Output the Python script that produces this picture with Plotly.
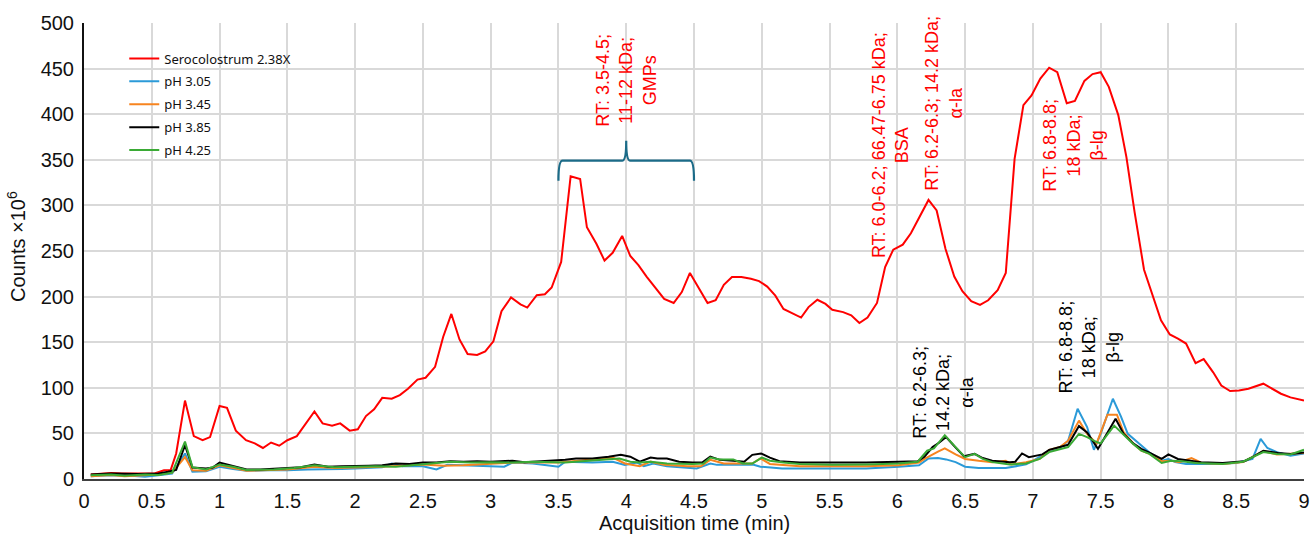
import plotly.graph_objects as go

# ---------------- data ----------------
red_time = [0.05,0.12,0.2,0.28,0.36,0.44,0.52,0.59,0.64,0.68,0.745,0.81,0.875,0.93,1.0,1.055,1.12,1.195,1.26,1.32,1.38,1.44,1.5,1.57,1.63,1.70,1.76,1.83,1.89,1.96,2.02,2.08,2.14,2.2,2.27,2.33,2.39,2.46,2.52,2.59,2.65,2.71,2.77,2.83,2.9,2.96,3.02,3.08,3.15,3.22,3.27,3.34,3.4,3.45,3.52,3.59,3.66,3.71,3.78,3.84,3.9,3.97,4.03,4.09,4.15,4.22,4.28,4.35,4.41,4.47,4.535,4.6,4.66,4.72,4.78,4.85,4.92,4.98,5.04,5.1,5.16,5.23,5.29,5.345,5.41,5.47,5.52,5.6,5.66,5.72,5.78,5.85,5.91,5.97,6.04,6.1,6.165,6.23,6.29,6.355,6.42,6.48,6.545,6.61,6.67,6.74,6.8,6.865,6.93,6.99,7.055,7.12,7.18,7.25,7.31,7.38,7.44,7.5,7.56,7.63,7.69,7.75,7.82,7.88,7.945,8.01,8.07,8.13,8.2,8.26,8.33,8.39,8.455,8.52,8.59,8.7,8.76,8.83,8.9,9.0]
red_counts = [5,5.5,6.5,6,6,6.5,6,9.5,10,28,86,47,42.5,46,80,78,53,42.5,39,34,40,36.5,42.5,47,59,74,61,58.5,61,53,54.5,69,76.5,89,88,92,99,109,111,123,156,181,153,137,136,140,151,184,199,191.5,188,201.5,202.5,210,238,332,329,276,258,239.5,248,266.5,244.5,234.5,222,208.5,197.5,193,205,226,209.5,193,196,213,221.5,221.5,219.5,217,211,201,186.5,181,177,188.5,196.5,192,185.5,183,179.5,171,177,193,232.5,251.5,257,269.5,287,306,294.5,252.5,222,206,195,191,196,207,226,351,410,420.5,439,451,446,412,414.5,436.5,444,446,430,399,353,293,229.5,203,174,158.5,154,148.5,127,131.5,117,102.5,96.5,97,99,104.5,99,93.5,89.5,86]

ph305_time = [0.05,0.2,0.35,0.45,0.55,0.65,0.745,0.8,0.9,1.0,1.1,1.2,1.35,1.5,1.65,1.8,1.9,2.0,2.1,2.2,2.27,2.35,2.5,2.6,2.68,2.8,3.0,3.1,3.16,3.31,3.5,3.55,3.75,3.9,3.99,4.08,4.13,4.2,4.3,4.52,4.62,4.67,4.94,4.99,5.15,5.5,5.77,6.01,6.16,6.23,6.3,6.36,6.43,6.5,6.6,6.8,6.95,7.0,7.12,7.2,7.26,7.33,7.4,7.45,7.5,7.59,7.65,7.7,7.8,7.86,7.95,8.0,8.05,8.13,8.3,8.5,8.62,8.68,8.73,8.8,8.9,9.0]
ph305_counts = [3,4,3.5,2.5,4,6,28,8,8.5,13.5,11,9,9.5,9.5,10.5,10.5,11,11.5,12,13,17,14,14,10.5,15.5,15,14,13.5,18,17,13.5,19,18,19,15.5,18,14,17,14,11.5,17,15.5,15.5,13.5,11.5,11.5,11.5,13.5,15,22.5,23,21.5,18.5,13.5,12,12,16,20,30.5,34,42,77,57,32,49.5,88,68.5,49.5,36.5,29,20,22,18.5,16.5,16.5,17.5,22,44,34,29.5,25.5,28]

ph345_time = [0.05,0.2,0.3,0.45,0.55,0.65,0.745,0.8,0.9,1.0,1.1,1.2,1.5,1.7,1.85,2.0,2.2,2.5,2.65,2.8,3.0,3.16,3.5,3.83,3.9,3.99,4.1,4.18,4.28,4.45,4.55,4.62,4.72,4.93,4.99,5.06,5.28,5.77,6.01,6.16,6.2,6.3,6.35,6.43,6.5,6.6,6.7,6.8,6.84,6.95,7.05,7.12,7.2,7.26,7.34,7.4,7.47,7.55,7.62,7.67,7.74,7.8,7.86,7.95,8.02,8.08,8.17,8.25,8.4,8.55,8.7,8.8,9.0]
ph345_counts = [3,4.5,3,4,5,7,24,9.5,9,15,12,9,10.5,13.5,12,12.5,13.5,16,14.5,15,17,18,18,22.5,23.5,17,14,19,15.5,14,14,21,17,17,22.5,16.5,14,14,15,18,22,30,33.5,27,22,20,18.5,20,16,18.5,22,32,35,42,64,49.5,39,70.5,70.5,51,39,31,27.5,19.5,20,18.5,23,17.5,16.5,18.5,30.5,27,28.5]

ph385_time = [0.05,0.2,0.4,0.55,0.62,0.68,0.745,0.8,0.9,0.95,1.0,1.1,1.2,1.3,1.4,1.5,1.6,1.7,1.8,1.9,2.0,2.1,2.2,2.3,2.4,2.5,2.6,2.7,2.8,2.9,3.0,3.1,3.16,3.25,3.31,3.43,3.55,3.63,3.75,3.87,3.96,4.03,4.1,4.18,4.23,4.3,4.39,4.49,4.56,4.62,4.69,4.79,4.87,4.93,4.995,5.06,5.13,5.28,5.52,5.77,6.01,6.15,6.2,6.26,6.31,6.36,6.42,6.49,6.57,6.63,6.7,6.83,6.87,6.92,6.97,7.02,7.07,7.12,7.19,7.26,7.34,7.4,7.48,7.55,7.61,7.67,7.74,7.8,7.86,7.95,8.0,8.07,8.18,8.24,8.4,8.56,8.62,8.7,8.81,8.9,9.0]
ph385_counts = [5,6,5.5,6,8,10,37,12.5,11.5,12.5,18,14,10.5,10.5,11.5,12.5,13,16,13.5,14,14,14.5,15,17,16.5,18,18,19.5,19,19.5,19,19.5,20,18.5,19,20,21,22.5,22.5,24.5,26.5,24.5,19,23.5,22.5,22.5,19,18,18,24.5,21,20,19,26.5,28,23.5,19.5,18,18,18,19,19.5,24.5,35,40,46,36,25,27.5,23,20,18.5,19,28,24,25.5,27,32,35,37.5,58,51,33,51,66,49.5,39,33,29,22,27,22,20,18.5,17.5,19.5,24,31,28.5,27.5,29]

ph425_time = [0.05,0.2,0.3,0.45,0.55,0.65,0.745,0.8,0.9,1.0,1.1,1.2,1.4,1.55,1.7,1.85,2.0,2.15,2.3,2.5,2.7,2.85,3.0,3.16,3.31,3.55,3.75,3.87,3.95,4.03,4.1,4.18,4.3,4.49,4.57,4.62,4.69,4.79,4.86,4.93,5.0,5.06,5.16,5.28,5.52,5.77,6.01,6.15,6.22,6.27,6.35,6.43,6.5,6.57,6.63,6.7,6.83,6.95,7.05,7.12,7.2,7.26,7.34,7.4,7.47,7.5,7.6,7.66,7.74,7.8,7.86,7.95,8.02,8.1,8.2,8.4,8.55,8.7,8.8,8.9,9.0]
ph425_counts = [4,5,3.5,5,4.5,7,41,13,10.5,16,13.5,10,10.5,12,15,13,13.5,14,13.5,16.5,19,18,18.5,18,19,18,20,21.5,22.5,19,18,19,17,16.5,17,23.5,21.5,21.5,17,17,23.5,20,18,16.5,15.5,16,17,19,31,33.5,48,35,24,27.5,22,18.5,16,17,22,29.5,33,35,49.5,46,40.5,39,58.5,49.5,38.5,31,27.5,17.5,20,19.5,17.5,16.5,19,29.5,27.5,27,32]

series_names = ["Serocolostrum 2.38X", "pH 3.05", "pH 3.45", "pH 3.85", "pH 4.25"]
series_colors = ["#ff0000", "#2b9ad8", "#f7841f", "#000000", "#3aaa35"]

x_ticks = [0, 0.5, 1, 1.5, 2, 2.5, 3, 3.5, 4, 4.5, 5, 5.5, 6, 6.5, 7, 7.5, 8, 8.5, 9]
x_tick_labels = ["0", "0.5", "1", "1.5", "2", "2.5", "3", "3.5", "4", "4.5", "5", "5.5", "6", "6.5", "7", "7.5", "8", "8.5", "9"]
y_ticks = [0, 50, 100, 150, 200, 250, 300, 350, 400, 450, 500]

x_title = "Acquisition time (min)"
y_title = "Counts ×10<sup>6</sup>"

# annotation texts: (text, x, y, color)
notes = [
    ("RT: 3.5-4.5;<br>11-12 kDa;<br>GMPs", 4.0, 437, "#ff0000"),
    ("RT: 6.0-6.2; 66.47-6.75 kDa;<br>BSA", 5.945, 366, "#ff0000"),
    ("RT: 6.2-6.3; 14.2 kDa;<br>α-la", 6.34, 412, "#ff0000"),
    ("RT: 6.8-8.8;<br>18 kDa;<br>β-lg", 7.30, 366, "#ff0000"),
    ("RT: 6.2-6.3;<br>14.2 kDa;<br>α-la", 6.34, 95, "#000000"),
    ("RT: 6.8-8.8;<br>18 kDa;<br>β-lg", 7.42, 145, "#000000"),
]

# brace over GMP region
BRACE_X0, BRACE_X1 = 3.5, 4.5
BRACE_Y, BRACE_END_Y, BRACE_TIP_Y = 349, 327, 371

# ---------------- figure ----------------
fig = go.Figure()
all_series = [
    (red_time, red_counts),
    (ph305_time, ph305_counts),
    (ph345_time, ph345_counts),
    (ph385_time, ph385_counts),
    (ph425_time, ph425_counts),
]
for (t, v), name, col in zip(all_series, series_names, series_colors):
    fig.add_trace(go.Scatter(x=t, y=v, mode="lines", name=name, legendgroup=name,
                             line=dict(color=col, width=2)))

for text, x, y, col in notes:
    fig.add_annotation(x=x, y=y, xref="x", yref="y", text=text, showarrow=False,
                       textangle=-90, xanchor="center", yanchor="middle", align="center",
                       font=dict(family="Arial", size=18, color=col))

# axis titles as annotations (exact placement)
fig.add_annotation(x=0.5, y=0, xref="paper", yref="paper", yshift=-44,
                   text=x_title, showarrow=False, xanchor="center", yanchor="middle",
                   font=dict(family="Arial", size=20, color="#111111"))
fig.add_annotation(x=0, y=0.509, xref="paper", yref="paper", xshift=-67,
                   text=y_title, showarrow=False, textangle=-90,
                   xanchor="center", yanchor="middle",
                   font=dict(family="Arial", size=20, color="#111111"))

xm = (BRACE_X0 + BRACE_X1) / 2
dx = 0.03
path = (f"M {BRACE_X0},{BRACE_END_Y} Q {BRACE_X0},{BRACE_Y} {BRACE_X0+dx},{BRACE_Y} "
        f"L {xm-dx},{BRACE_Y} Q {xm},{BRACE_Y} {xm},{BRACE_TIP_Y} "
        f"Q {xm},{BRACE_Y} {xm+dx},{BRACE_Y} L {BRACE_X1-dx},{BRACE_Y} "
        f"Q {BRACE_X1},{BRACE_Y} {BRACE_X1},{BRACE_END_Y}")
fig.add_shape(type="path", path=path, xref="x", yref="y",
              line=dict(color="#1b6b88", width=2.2))

fig.update_layout(
    width=1316, height=535,
    margin=dict(l=84, r=12, t=23, b=56, autoexpand=False),
    plot_bgcolor="white", paper_bgcolor="white",
    font=dict(family="Arial", size=20, color="#111111"),
    showlegend=True,
    legend=dict(x=0.033, y=0.955, xanchor="left", yanchor="top",
                bgcolor="rgba(0,0,0,0)", borderwidth=0,
                font=dict(family="Noto Sans", size=13, color="#111111"),
                tracegroupgap=3, itemwidth=30),
)
fig.update_xaxes(range=[0, 9], tickvals=x_ticks, ticktext=x_tick_labels,
                 showgrid=True, gridcolor="#d9d9d9", gridwidth=1.5,
                 showline=True, linecolor="#404040", linewidth=2,
                 zeroline=False, ticks="", ticklabelstandoff=3, automargin=False)
fig.update_yaxes(range=[0, 500], tickvals=y_ticks,
                 showgrid=True, gridcolor="#d9d9d9", gridwidth=1.5,
                 showline=True, linecolor="#111111", linewidth=2,
                 zeroline=False, ticks="", ticklabelstandoff=4, automargin=False)

fig.write_html("out.html",
               config={"displayModeBar": False},
               post_script="document.body.style.margin='0';document.body.style.overflow='hidden';")
